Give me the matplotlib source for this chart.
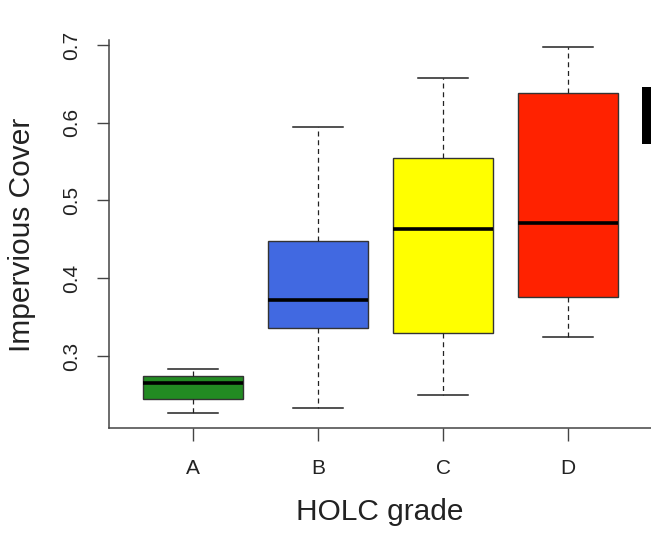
import matplotlib.pyplot as plt
import matplotlib.patches as mpatches

plt.rcParams['font.family'] = ['Liberation Sans', 'DejaVu Sans']

grades = ['A', 'B', 'C', 'D']
whisker_low = [0.227, 0.233, 0.250, 0.324]
q1 = [0.245, 0.336, 0.330, 0.376]
median = [0.265, 0.372, 0.463, 0.471]
q3 = [0.274, 0.448, 0.555, 0.638]
whisker_high = [0.283, 0.595, 0.658, 0.697]
colors = ['#228B22', '#4169E1', '#FFFF00', '#FF2200']

stats = []
for i, g in enumerate(grades):
    stats.append({'label': g, 'whislo': whisker_low[i], 'q1': q1[i], 'med': median[i],
                  'q3': q3[i], 'whishi': whisker_high[i], 'fliers': []})

fig = plt.figure(figsize=(6.51, 5.33), dpi=100)
ax = fig.add_axes([109 / 651, 1 - 428 / 533, 1 - 109 / 651, (428 - 40) / 533])

pos = [1, 2, 3, 4]
bp = ax.bxp(stats, positions=pos, widths=0.8, capwidths=0.4, patch_artist=True,
            showfliers=False,
            medianprops=dict(color='black', linewidth=2.6),
            whiskerprops=dict(color='#222222', linestyle=(0, (4, 3)), linewidth=0.9),
            capprops=dict(color='#222222', linewidth=1.1),
            boxprops=dict(edgecolor='#333333', linewidth=1.0))
for box, c in zip(bp['boxes'], colors):
    box.set_facecolor(c)

ax.set_xlim(0.328, 4.664)
ax.set_ylim(0.2074, 0.7064)
ax.set_yticks([0.3, 0.4, 0.5, 0.6, 0.7])
ax.set_yticklabels(['0.3', '0.4', '0.5', '0.6', '0.7'], rotation=90, va='center')
ax.set_xticks(pos)
ax.set_xticklabels(grades)

ax.spines['top'].set_visible(False)
ax.spines['right'].set_visible(False)
for s in ['left', 'bottom']:
    ax.spines[s].set_color('#444444')
    ax.spines[s].set_linewidth(1.1)
ax.tick_params(axis='both', length=9, width=1.0, color='#444444', labelsize=15, labelcolor='#222222')
ax.tick_params(axis='y', pad=11)
ax.tick_params(axis='x', pad=13)

fig.text(22 / 651, 1 - 235 / 533, 'Impervious Cover', rotation=90, ha='center', va='center',
         fontsize=21.5, color='#222222')
fig.text(380 / 651, 1 - 512 / 533, 'HOLC grade', ha='center', va='center',
         fontsize=21.5, color='#222222')

# cut-off legend box at right edge
fig.patches.append(mpatches.Rectangle((642 / 651, 1 - 144 / 533), 12 / 651, 57 / 533,
                                      transform=fig.transFigure, facecolor='black',
                                      linewidth=0, figure=fig))

fig.savefig('out.png', dpi=100)
